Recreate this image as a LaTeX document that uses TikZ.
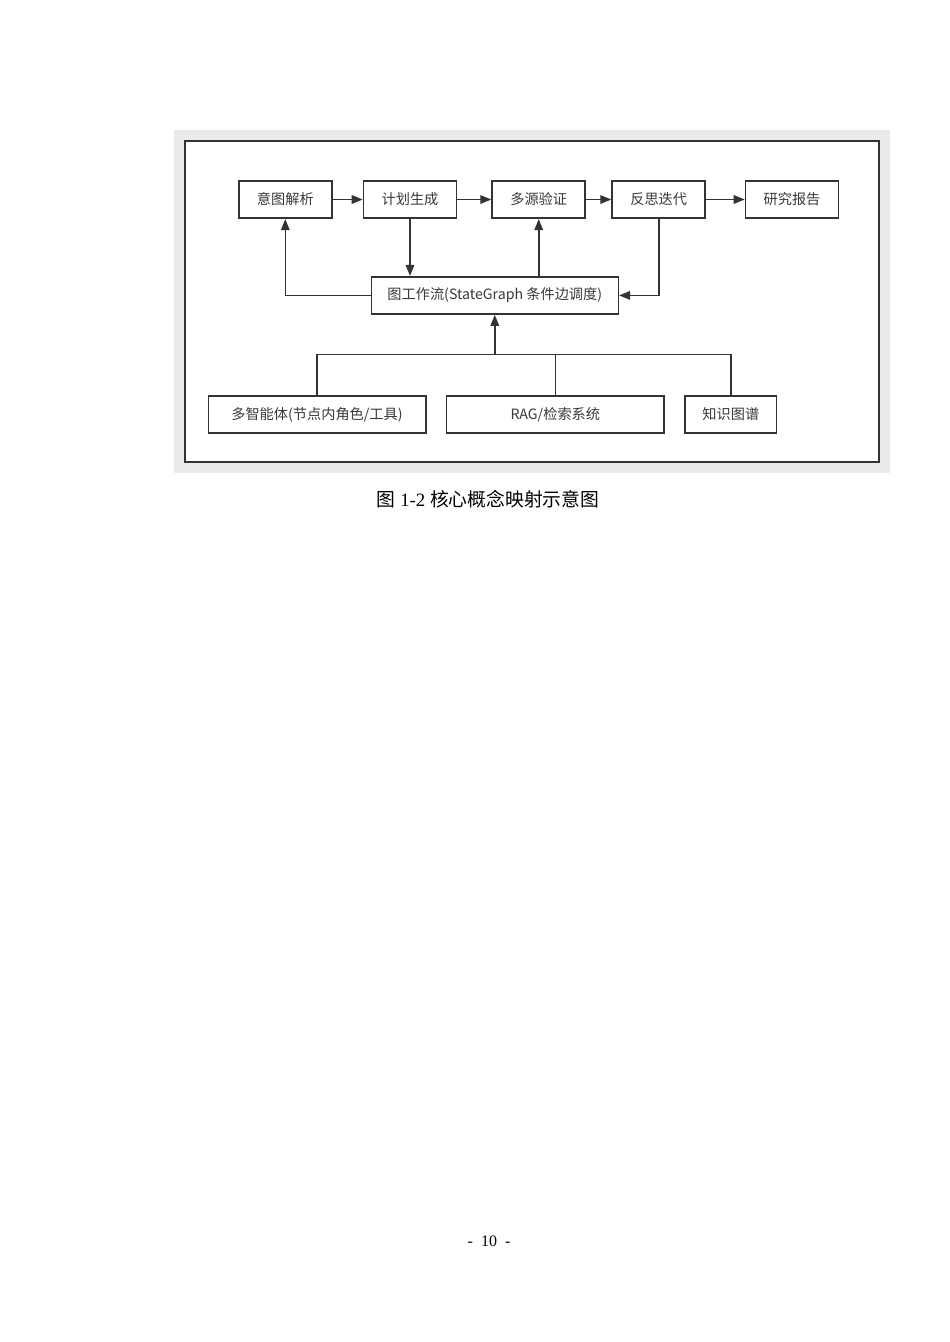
\documentclass[tikz,border=0pt]{standalone}
\usepackage{fontspec}
\setmainfont{Liberation Serif}
\newfontfamily\cjk{Noto Sans CJK SC}
\usetikzlibrary{arrows.meta}
\definecolor{linec}{HTML}{333333}
\definecolor{textc}{HTML}{3A3A3A}
\definecolor{bgc}{HTML}{E9EAEC}
\begin{document}
\begin{tikzpicture}[x=1pt,y=-1pt,
 box/.style={draw=linec, line width=1.6pt, fill=white, minimum height=37.5pt, inner sep=0pt, font=\cjk\fontsize{14.2}{15}\selectfont, text=textc},
 arr/.style={draw=linec, line width=1.6pt, -{Triangle[length=11pt,width=8.5pt]}},
 ln/.style={draw=linec, line width=1.6pt}]
\useasboundingbox (0,0) rectangle (950,1342);
\fill[white] (0,0) rectangle (950,1342);
\fill[bgc] (174,130) rectangle (890,472.5);
\draw[linec, line width=2pt, fill=white] (185,140.7) rectangle (879,461.7);
% top row
\node[box, minimum width=93pt] (n1) at (285.3,199.5) {意图解析};
\node[box, minimum width=93pt] (n2) at (410,199.5) {计划生成};
\node[box, minimum width=93pt] (n3) at (538.7,199.5) {多源验证};
\node[box, minimum width=93pt] (n4) at (658.7,199.5) {反思迭代};
\node[box, minimum width=93pt] (n5) at (792,199.5) {研究报告};
% middle
\node[box, minimum width=247pt, minimum height=37.3pt] (wf) at (494.8,295.4) {图工作流(StateGraph 条件边调度)};
% bottom row
\node[box, minimum width=217.4pt] (b1) at (317,414.5) {多智能体(节点内角色/工具)};
\node[box, minimum width=217.3pt] (b2) at (555.3,414.5) {RAG/检索系统};
\node[box, minimum width=91.7pt] (b3) at (730.8,414.5) {知识图谱};
\coordinate (bus) at (494.8,354.3);
% connectors
\draw[arr] (n1) -- (n2);
\draw[arr] (n2) -- (n3);
\draw[arr] (n3) -- (n4);
\draw[arr] (n4) -- (n5);
\draw[arr] (wf.west) -| (n1.south);
\draw[arr] (n2.south) -- (n2.south |- wf.north);
\draw[arr] (n3.south |- wf.north) -- (n3.south);
\draw[arr] (n4.south) |- (wf.east);
\draw[ln] (b1.north) -- (b1.north |- bus) -- (b3.north |- bus) -- (b3.north);
\draw[ln] (b2.north) -- (b2.north |- bus);
\draw[arr] (bus) -- (wf.south);
% caption and page number
\node[font=\fontsize{18.8}{19}\selectfont, inner sep=0pt] (cap) at (488,499) {{\cjk 图} 1-2 {\cjk 核心概念映射示意图}};
\node[font=\fontsize{16}{16}\selectfont, inner sep=0pt] (pg) at (489,1241) {-\ \ 10\ \ -};
\end{tikzpicture}
\end{document}
